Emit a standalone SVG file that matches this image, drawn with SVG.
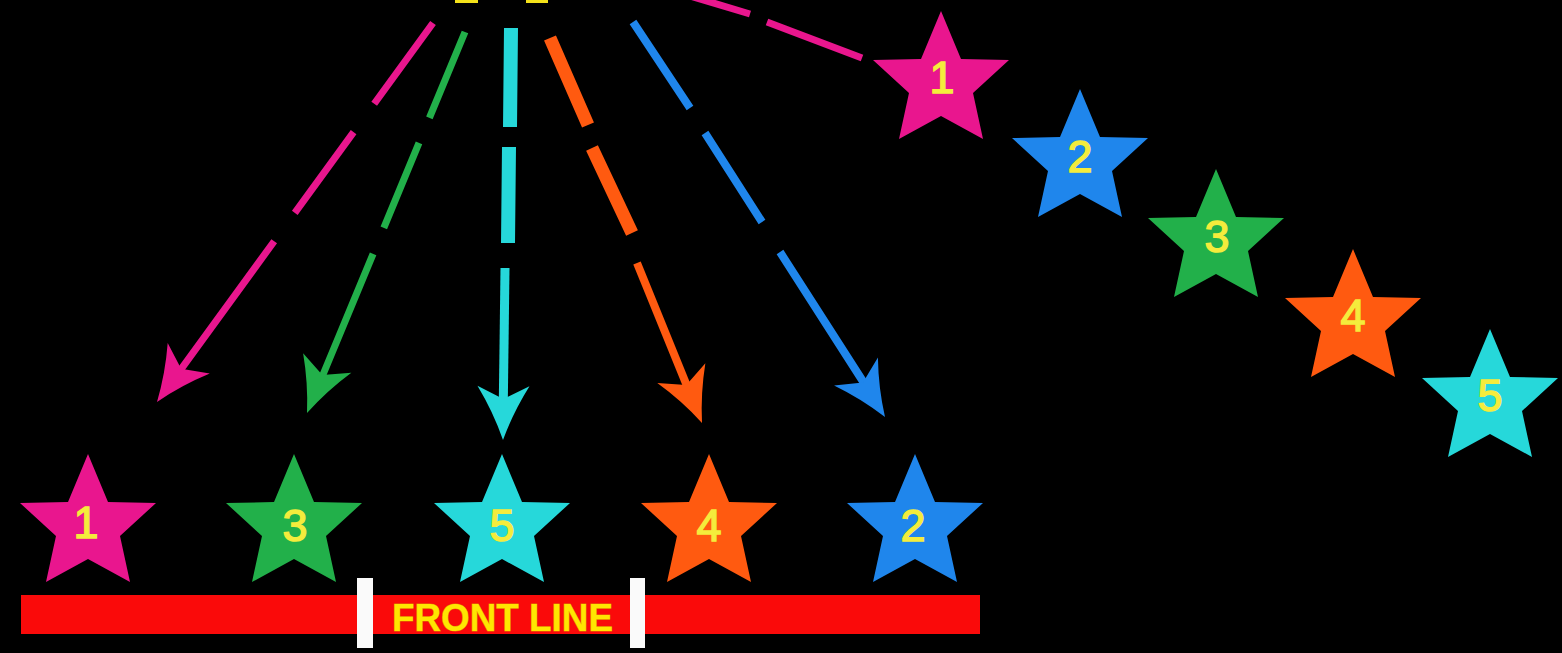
<svg xmlns="http://www.w3.org/2000/svg" xmlns:xlink="http://www.w3.org/1999/xlink" width="1562" height="653" viewBox="0 0 1562 653">
  <defs>
    <path id="star" d="M0,-71 L20,-23 L68,-22 L32,11 L42,57 L0,34 L-42,57 L-32,11 L-68,-22 L-20,-23 Z"/>
    <path id="head" d="M0,0 Q-28,-10 -54,-26 L-41,0 L-54,26 Q-28,10 0,0 Z"/>
  </defs>
  <style>
    .num { font-family: "Liberation Sans", Arial, sans-serif; font-size: 45px; fill: #F4EC3C; stroke: #F4EC3C; stroke-width: 1.4; text-anchor: middle; }
    .pink { fill: #E9168E; }
    .blue { fill: #1F86EC; }
    .green { fill: #22B04A; }
    .orange { fill: #FF5A10; }
    .cyan { fill: #26D8DA; }
    .dash { fill: none; stroke-linecap: butt; }
    .pk { stroke: #E9168E; }
    .gr { stroke: #22B04A; }
    .cy { stroke: #26D8DA; }
    .or { stroke: #FF5A10; }
    .bl { stroke: #1F86EC; }
    .label { font-family: "Liberation Sans", Arial, sans-serif; font-weight: bold; font-size: 39px; fill: #FFE600; stroke: #E07A00; stroke-width: 1; paint-order: stroke; text-anchor: middle; }
  </style>
  <rect x="0" y="0" width="1562" height="653" fill="#000000"/>

  <!-- cut-off title fragments at top edge -->
  <g id="title-fragment" fill="#F4E21A">
    <rect x="455" y="0" width="23" height="3"/>
    <rect x="526" y="0" width="22" height="3"/>
  </g>

  <g id="connectors">
    <g id="arrow-pink">
      <path class="dash pk" stroke-width="7" d="M433,23 L374.2,103.8 M353.6,132.1 L294.8,212.9 M274.2,241.2 L180.2,370.4"/>
      <use xlink:href="#head" class="pink" transform="translate(157,402) rotate(126)"/>
    </g>
    <g id="arrow-green">
      <path class="dash gr" stroke-width="7" d="M465,32 L429.4,117.9 M419,142.9 L383.8,227.9 M373.1,253.8 L321.4,378.5"/>
      <use xlink:href="#head" class="green" transform="translate(307,413) rotate(112)"/>
    </g>
    <g id="arrow-cyan">
      <path class="dash cy" stroke-width="14" d="M511,28 L510,127 M509,147 L508,243"/>
      <path class="dash cy" stroke-width="9" d="M505,268 L503.3,402"/>
      <use xlink:href="#head" class="cyan" transform="translate(503,440) rotate(90.5)"/>
    </g>
    <g id="arrow-orange">
      <path class="dash or" stroke-width="13" d="M550,38 L588,125 M592,148 L632,233"/>
      <path class="dash or" stroke-width="8" d="M637,263 L687,386"/>
      <use xlink:href="#head" class="orange" transform="translate(702,423) rotate(67.5)"/>
    </g>
    <g id="arrow-blue">
      <path class="dash bl" stroke-width="8" d="M633,22 L690,108 M705,133 L762,222 M780,252 L864,383"/>
      <use xlink:href="#head" class="blue" transform="translate(885,417) rotate(57.5)"/>
    </g>
    <g id="line-pink-top">
      <path class="dash pk" stroke-width="7" d="M690,-4 L750,14 M767,22 L862,58"/>
    </g>
  </g>

  <g id="star-right-1"><use xlink:href="#star" class="pink" transform="translate(941,82)"/><text class="num" x="942" y="93">1</text></g>
  <g id="star-right-2"><use xlink:href="#star" class="blue" transform="translate(1080,160)"/><text class="num" x="1080" y="172">2</text></g>
  <g id="star-right-3"><use xlink:href="#star" class="green" transform="translate(1216,240)"/><text class="num" x="1217" y="252">3</text></g>
  <g id="star-right-4"><use xlink:href="#star" class="orange" transform="translate(1353,320)"/><text class="num" x="1353" y="331">4</text></g>
  <g id="star-right-5"><use xlink:href="#star" class="cyan" transform="translate(1490,400)"/><text class="num" x="1490" y="411">5</text></g>

  <g id="star-bottom-1"><use xlink:href="#star" class="pink" transform="translate(88,525)"/><text class="num" x="86" y="538">1</text></g>
  <g id="star-bottom-3"><use xlink:href="#star" class="green" transform="translate(294,525)"/><text class="num" x="295" y="541">3</text></g>
  <g id="star-bottom-5"><use xlink:href="#star" class="cyan" transform="translate(502,525)"/><text class="num" x="502" y="541">5</text></g>
  <g id="star-bottom-4"><use xlink:href="#star" class="orange" transform="translate(709,525)"/><text class="num" x="709" y="541">4</text></g>
  <g id="star-bottom-2"><use xlink:href="#star" class="blue" transform="translate(915,525)"/><text class="num" x="913" y="541">2</text></g>

  <g id="front-line">
    <rect x="21" y="595" width="959" height="39" fill="#FA0A0A"/>
    <rect x="357" y="578" width="16" height="70" fill="#FAFAFA"/>
    <rect x="630" y="578" width="15" height="70" fill="#FAFAFA"/>
    <text class="label" x="502.5" y="631" textLength="221" lengthAdjust="spacingAndGlyphs">FRONT LINE</text>
  </g>
</svg>
